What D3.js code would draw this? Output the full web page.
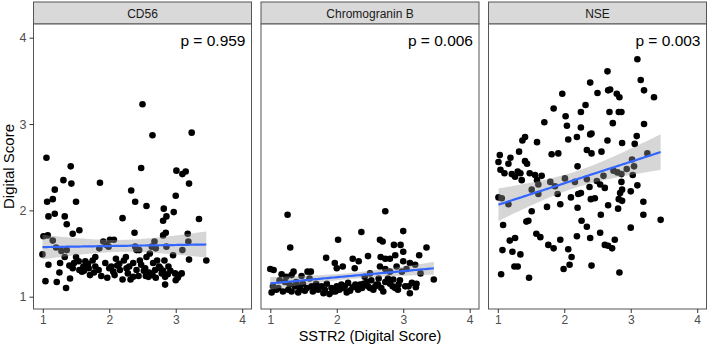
<!DOCTYPE html>
<html><head><meta charset="utf-8">
<script src="https://cdn.jsdelivr.net/npm/d3@7"></script>
<style>body{margin:0;background:#fff}svg{display:block}</style>
</head><body>
<script>
const facets = ["CD56", "Chromogranin B", "NSE"];
const pLabels = ["p = 0.959", "p = 0.006", "p = 0.003"];
const xTicks = [1, 2, 3, 4];
const yTicks = [1, 2, 3, 4];

const cd56X = [1.055,2.50,2.65,3.24,1.31,1.42,1.43,1.18,1.15,1.065,1.50,1.86,2.48,2.33,2.39,2.20,2.56,3.01,3.10,3.15,3.20,3.00,3.35,2.97,2.82,2.86,2.81,1.085,1.18,1.33,1.36,1.55,1.45,1.01,1.075,1.15,0.995,1.085,1.04,1.21,1.35,1.41,1.26,1.33,1.28,1.36,1.20,1.50,1.47,1.45,1.54,1.61,1.64,1.59,1.71,1.69,1.79,1.75,1.79,1.84,1.85,1.91,1.96,2.01,2.07,1.99,1.94,1.97,2.03,2.06,2.10,2.12,2.16,2.20,2.22,2.25,2.26,2.32,2.36,2.36,2.41,2.38,2.39,2.41,2.45,2.46,2.48,2.54,2.55,2.59,2.56,2.61,2.64,2.68,2.70,2.66,2.69,2.72,2.65,2.75,2.79,2.81,2.83,2.81,2.85,2.86,2.89,2.84,2.84,2.96,2.99,3.00,3.05,3.09,3.10,3.18,3.19,3.20,3.46,
  1.62,1.68,1.77,1.88,2.00,2.08,2.15,2.28,2.30,2.44,2.52,2.60,2.70,2.77,2.88,2.92,3.03,1.25,1.40,1.55];
const cd56Y = [2.61,3.23,2.87,2.90,2.35,2.51,2.31,2.24,2.13,2.10,2.10,2.32,2.49,2.23,2.10,1.91,2.05,2.46,2.42,2.45,2.31,2.17,1.90,1.98,2.02,1.93,1.88,1.93,1.96,1.93,1.84,1.77,1.73,1.70,1.71,1.65,1.49,1.37,1.18,1.17,1.10,1.21,1.39,1.46,1.53,1.54,1.57,1.46,1.39,1.33,1.41,1.35,1.41,1.29,1.25,1.33,1.35,1.42,1.46,1.31,1.56,1.64,1.60,1.66,1.66,1.58,1.39,1.22,1.35,1.29,1.44,1.36,1.31,1.20,1.42,1.46,1.33,1.20,1.23,1.39,1.31,1.74,1.58,1.54,1.54,1.42,1.37,1.33,1.24,1.23,1.46,1.50,1.58,1.64,1.56,1.39,1.31,1.42,1.25,1.35,1.27,1.30,1.42,1.71,1.74,1.58,1.35,1.14,1.23,1.48,1.27,1.19,1.25,1.27,1.54,1.73,1.64,1.43,1.42,
  1.30,1.38,1.28,1.24,1.33,1.25,1.38,1.27,1.35,1.24,1.30,1.28,1.22,1.33,1.26,1.30,1.22,1.28,1.36,1.31];

const chgX = [1.26,2.73,2.37,3.00,1.30,2.02,2.65,2.69,2.86,2.96,3.00,3.35,3.24,1.84,1.97,2.00,2.09,2.24,2.33,2.27,2.47,2.66,2.73,2.80,2.88,3.00,3.10,3.18,2.65,2.73,2.80,3.05,3.26,3.46,3.20,3.19,3.10,3.03,1.00,1.05,1.17,1.24,1.32,1.35,1.47,1.56,1.61,1.59,1.14,1.22,1.29,1.39,1.49,1.69,1.85,1.02,1.09,1.19,1.32,1.42,1.52,1.64,1.80,1.89,1.94,2.04,2.12,2.20,2.24,2.32,2.40,2.47,2.55,2.60,2.67,2.73,2.80,2.88,2.93,2.95,2.85,2.77,2.63,2.52,2.45,2.35,2.17,2.07,2.00,1.92,1.77,2.50,2.42,2.98,2.90,1.04,1.44,1.62,1.72,
  1.12,1.27,1.37,1.55,1.67,1.82,1.98,2.10,2.28,2.38,2.58,2.70,2.84,2.92,3.08,3.13,1.45,2.15,2.50,2.62];
const chgY = [1.95,1.99,1.75,1.76,1.57,1.66,1.66,1.64,1.60,1.60,1.52,1.57,1.48,1.45,1.39,1.33,1.35,1.44,1.41,1.33,1.47,1.46,1.44,1.44,1.48,1.41,1.39,1.37,1.35,1.32,1.29,1.32,1.27,1.20,1.15,1.11,1.04,1.12,1.32,1.31,1.26,1.23,1.25,1.29,1.24,1.29,1.29,1.21,1.19,1.17,1.14,1.17,1.15,1.15,1.15,1.05,1.08,1.06,1.06,1.05,1.07,1.06,1.04,1.03,1.06,1.08,1.12,1.07,1.11,1.08,1.15,1.12,1.08,1.14,1.10,1.17,1.15,1.10,1.14,1.19,1.20,1.21,1.21,1.19,1.17,1.14,1.16,1.14,1.12,1.10,1.12,1.27,1.23,1.29,1.35,1.12,1.12,1.12,1.08,
  1.10,1.08,1.12,1.10,1.12,1.08,1.06,1.10,1.14,1.10,1.12,1.06,1.12,1.08,1.12,1.16,1.08,1.05,1.10,1.14];

const nseX = [3.10,2.65,3.15,3.20,3.35,2.39,1.97,2.50,2.66,2.69,2.79,2.83,2.32,1.84,2.25,2.02,2.68,2.82,2.86,1.70,2.04,2.73,3.20,2.25,2.39,2.41,2.06,2.19,1.41,1.37,1.59,2.65,2.87,3.09,3.06,1.32,1.03,1.19,1.16,1.01,1.41,1.44,1.04,1.10,1.21,1.26,1.30,1.34,1.48,1.56,1.66,1.36,1.59,1.81,1.91,2.34,2.41,2.56,2.20,3.25,3.02,3.05,2.94,2.74,2.80,2.86,3.03,2.59,2.01,1.79,1.61,2.16,2.34,2.49,2.54,2.86,1.86,1.51,2.61,2.38,2.87,3.00,3.10,1.01,1.06,1.16,1.61,1.90,2.10,2.21,2.25,2.40,2.46,2.84,2.82,2.87,3.19,1.51,1.74,1.94,2.20,2.66,2.81,2.55,3.19,1.08,1.43,1.46,2.26,2.34,3.45,3.00,1.58,1.64,2.19,2.39,2.54,2.76,1.18,1.26,1.76,1.84,1.94,2.61,2.66,2.72,1.07,1.22,1.34,2.06,2.11,1.25,1.30,2.08,1.99,2.41,1.05,1.47,2.83];
const nseY = [3.75,3.61,3.51,3.39,3.31,3.48,3.35,3.36,3.39,3.40,3.35,3.31,3.22,3.18,3.14,3.09,3.14,3.14,3.14,3.02,2.98,3.01,3.00,2.96,2.88,2.89,2.82,2.85,2.85,2.81,2.79,2.81,2.78,2.86,2.77,2.68,2.64,2.61,2.54,2.56,2.57,2.54,2.47,2.43,2.42,2.39,2.45,2.43,2.43,2.41,2.40,2.35,2.35,2.65,2.66,2.70,2.66,2.68,2.51,2.66,2.59,2.51,2.48,2.46,2.44,2.42,2.41,2.40,2.37,2.33,2.30,2.33,2.36,2.34,2.30,2.33,2.28,2.24,2.26,2.27,2.24,2.22,2.29,2.15,2.14,2.07,2.19,2.19,2.15,2.19,2.20,2.13,2.14,2.20,2.13,2.11,2.10,1.99,2.04,2.07,2.03,2.06,2.02,1.95,1.95,1.83,1.87,1.88,1.88,1.81,1.89,1.80,1.73,1.69,1.70,1.68,1.74,1.66,1.65,1.68,1.60,1.56,1.66,1.60,1.59,1.56,1.54,1.52,1.49,1.55,1.46,1.35,1.35,1.37,1.32,1.36,1.26,1.22,1.28];

const seriesX = [cd56X, chgX, nseX];
const seriesY = [cd56Y, chgY, nseY];

const W = 709, H = 347;
const panelLefts = [33.5, 261, 488.5];
const panelW = 218;
const stripTop = 2, panelTop = 24, panelBot = 309;
const FONT = "'Liberation Sans', Arial, sans-serif";

const svg = d3.select("body").append("svg").attr("width", W).attr("height", H)
  .style("font-family", FONT);

const y = d3.scaleLinear().domain([1, 4]).range([296.7, 37.7]);

function fit(xs, ys) {
  const n = xs.length;
  const mx = d3.mean(xs), my = d3.mean(ys);
  let sxx = 0, sxy = 0;
  for (let i = 0; i < n; i++) { sxx += (xs[i]-mx)**2; sxy += (xs[i]-mx)*(ys[i]-my); }
  const b = sxy / sxx, a = my - b * mx;
  let sse = 0;
  for (let i = 0; i < n; i++) sse += (ys[i] - a - b*xs[i])**2;
  const df = n - 2, s = Math.sqrt(sse / df);
  const z = 1.959964, t = z + (z**3 + z) / (4*df);
  const [x0, x1] = d3.extent(xs);
  return d3.range(81).map(i => {
    const xv = x0 + (x1 - x0) * i / 80;
    const yv = a + b * xv;
    const se = s * Math.sqrt(1/n + (xv-mx)**2 / sxx);
    return {x: xv, y: yv, lo: yv - t*se, hi: yv + t*se};
  });
}

facets.forEach((name, k) => {
  const L = panelLefts[k];
  const x = d3.scaleLinear().domain([1, 4]).range([L + 9.3, L + 208.7]);
  const g = svg.append("g");
  g.append("rect").attr("x", L).attr("y", stripTop).attr("width", panelW).attr("height", panelTop - stripTop)
    .attr("fill", "#d9d9d9").attr("stroke", "#555").attr("stroke-width", 1);
  g.append("text").attr("x", L + panelW/2).attr("y", 17.5).attr("text-anchor", "middle")
    .attr("font-size", 12).attr("fill", "#1a1a1a").text(name);
  g.append("rect").attr("x", L).attr("y", panelTop).attr("width", panelW).attr("height", panelBot - panelTop)
    .attr("fill", "#fff");
  const data = seriesX[k].map((v, i) => [v, seriesY[k][i]]);
  g.append("g").selectAll("circle").data(data).join("circle")
    .attr("cx", d => x(d[0])).attr("cy", d => y(d[1])).attr("r", 3.3).attr("fill", "#000");
  const pts = fit(seriesX[k], seriesY[k]);
  g.append("path").datum(pts).attr("fill", "#999999").attr("fill-opacity", 0.4)
    .attr("d", d3.area().x(d => x(d.x)).y0(d => y(d.lo)).y1(d => y(d.hi)));
  g.append("path").datum(pts).attr("fill", "none").attr("stroke", "#3366FF").attr("stroke-width", 2.2)
    .attr("d", d3.line().x(d => x(d.x)).y(d => y(d.y)));
  g.append("text").attr("x", L + panelW - 6).attr("y", 46).attr("text-anchor", "end")
    .attr("font-size", 15.5).attr("fill", "#000").text(pLabels[k]);
  g.append("rect").attr("x", L).attr("y", panelTop).attr("width", panelW).attr("height", panelBot - panelTop)
    .attr("fill", "none").attr("stroke", "#555").attr("stroke-width", 1);
  const xa = svg.append("g").attr("transform", `translate(0,${panelBot})`)
    .call(d3.axisBottom(x).tickValues(xTicks).tickFormat(d3.format("d")).tickSize(4).tickPadding(2));
  xa.select(".domain").remove();
  xa.selectAll("line").attr("stroke", "#333");
  xa.selectAll("text").attr("fill", "#4d4d4d").attr("font-size", 12).style("font-family", FONT);
});

const ya = svg.append("g").attr("transform", `translate(${panelLefts[0]},0)`)
  .call(d3.axisLeft(y).tickValues(yTicks).tickFormat(d3.format("d")).tickSize(4).tickPadding(3));
ya.select(".domain").remove();
ya.selectAll("line").attr("stroke", "#333");
ya.selectAll("text").attr("fill", "#4d4d4d").attr("font-size", 12.5).style("font-family", FONT);

svg.append("text").attr("transform", `translate(14,${(panelTop+panelBot)/2}) rotate(-90)`)
  .attr("text-anchor", "middle").attr("font-size", 15).attr("fill", "#000").text("Digital Score");
svg.append("text").attr("x", 370).attr("y", 341).attr("text-anchor", "middle")
  .attr("font-size", 14.5).attr("fill", "#000").text("SSTR2 (Digital Score)");
</script>
</body></html>
